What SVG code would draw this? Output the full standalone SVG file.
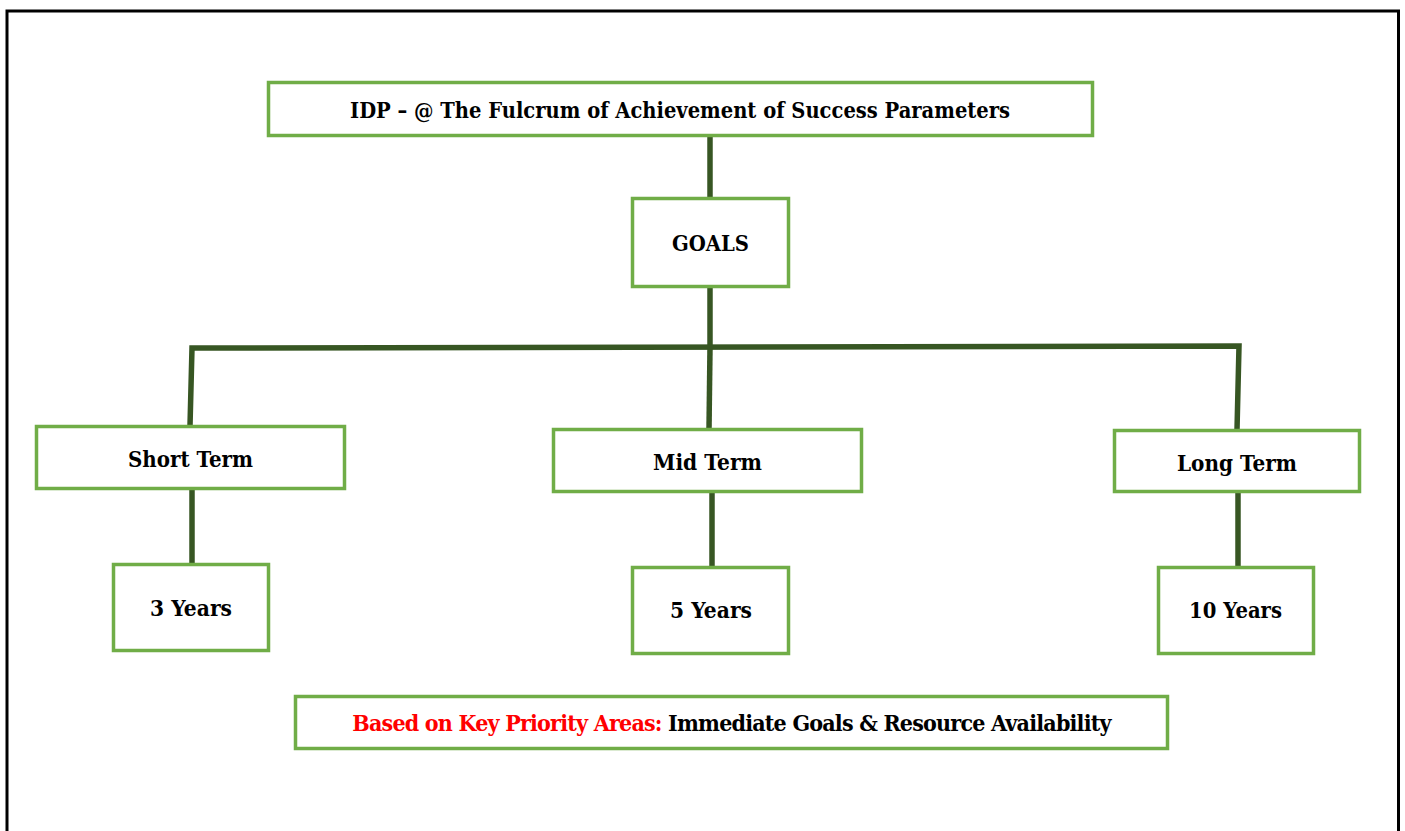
<svg xmlns="http://www.w3.org/2000/svg" width="1405" height="831" viewBox="0 0 1405 831">
<style>
.box{fill:#fff;stroke:#70AD47;stroke-width:3.5}
.t{font-family:"DejaVu Serif","Liberation Serif",serif;font-weight:bold;font-size:23px;fill:#000}
.red{fill:#FF0000}
.c{stroke:#375623;stroke-width:5.5;fill:none;stroke-linecap:butt}
</style>
<rect width="1405" height="831" fill="#fff"/>
<path d="M7,835 V11 H1398.5 V835" fill="none" stroke="#000" stroke-width="3"/>
<g id="connectors">
<line class="c" x1="710" y1="136" x2="710" y2="198"/>
<line class="c" x1="710" y1="287" x2="710" y2="348"/>
<polyline class="c" points="190,426 192,348 1239,346 1237,430"/>
<line class="c" x1="710" y1="348" x2="709" y2="429"/>
<line class="c" x1="192" y1="489" x2="192" y2="564"/>
<line class="c" x1="712" y1="492" x2="712" y2="567"/>
<line class="c" x1="1238" y1="492" x2="1238" y2="567"/>
</g>
<g id="title">
<rect class="box" x="268.5" y="82.5" width="824" height="53"/>
<text class="t" x="350" y="118" textLength="660" lengthAdjust="spacingAndGlyphs">IDP – @ The Fulcrum of Achievement of Success Parameters</text>
</g>
<g id="goals">
<rect class="box" x="632.5" y="198.5" width="156" height="88"/>
<text class="t" x="672" y="251" font-size="24" textLength="77" lengthAdjust="spacingAndGlyphs">GOALS</text>
</g>
<g id="short">
<rect class="box" x="36.5" y="426.5" width="308" height="62"/>
<text class="t" x="128" y="467" textLength="125" lengthAdjust="spacingAndGlyphs">Short Term</text>
</g>
<g id="mid">
<rect class="box" x="553.5" y="429.5" width="308" height="62"/>
<text class="t" x="653" y="470" textLength="109" lengthAdjust="spacingAndGlyphs">Mid Term</text>
</g>
<g id="long">
<rect class="box" x="1114.5" y="430.5" width="245" height="61"/>
<text class="t" x="1177" y="471" textLength="120" lengthAdjust="spacingAndGlyphs">Long Term</text>
</g>
<g id="y3">
<rect class="box" x="113.5" y="564.5" width="155" height="86"/>
<text class="t" x="150" y="616" textLength="82" lengthAdjust="spacingAndGlyphs">3 Years</text>
</g>
<g id="y5">
<rect class="box" x="632.5" y="567.5" width="156" height="86"/>
<text class="t" x="670" y="618" textLength="82" lengthAdjust="spacingAndGlyphs">5 Years</text>
</g>
<g id="y10">
<rect class="box" x="1158.5" y="567.5" width="155" height="86"/>
<text class="t" x="1189" y="618" textLength="93" lengthAdjust="spacingAndGlyphs">10 Years</text>
</g>
<g id="basis">
<rect class="box" x="295.5" y="696.5" width="872" height="52"/>
<text class="t" x="731.5" y="731" text-anchor="middle" font-size="21" font-stretch="condensed" letter-spacing="-0.8"><tspan class="red">Based on Key Priority Areas:</tspan> Immediate Goals &amp; Resource Availability</text>
</g>
</svg>
